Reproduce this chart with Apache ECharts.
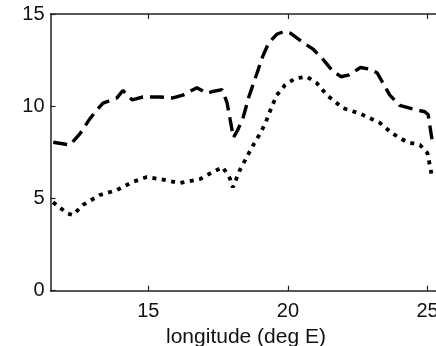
<!DOCTYPE html>
<html>
<head>
<meta charset="utf-8">
<script src="https://cdn.jsdelivr.net/npm/echarts@6/dist/echarts.min.js"></script>
<style>html,body{margin:0;padding:0;background:#fff;}#c{width:436px;height:346px;}</style>
</head>
<body>
<div id="c"></div>
<script>
var xTicks = [15, 20, 25];
var yTicks = [0, 5, 10, 15];
var dashLon = [11.6, 12.2, 12.55, 12.9, 13.16, 13.38, 13.88, 14.09, 14.42, 14.81, 15.42, 15.88, 16.24, 16.74, 17.1, 17.31, 17.64, 17.82, 18.05, 18.2, 18.4, 18.6, 18.85, 19.1, 19.3, 19.6, 19.85, 20.1, 20.55, 20.9, 21.25, 21.61, 21.9, 22.2, 22.6, 22.95, 23.2, 23.65, 24.0, 24.47, 24.9, 25.02, 25.17];
var dashVal = [8.05, 7.9, 8.5, 9.3, 9.8, 10.17, 10.45, 10.85, 10.35, 10.5, 10.5, 10.45, 10.6, 11.0, 10.7, 10.8, 10.9, 10.2, 8.3, 8.7, 9.4, 10.5, 11.6, 12.7, 13.4, 13.9, 14.05, 13.95, 13.45, 13.1, 12.55, 11.9, 11.6, 11.7, 12.1, 12.0, 11.8, 10.6, 10.05, 9.85, 9.7, 9.55, 8.1];
var dotLon = [11.59, 12.09, 12.3, 12.66, 13.27, 13.88, 14.45, 14.95, 15.42, 16.13, 16.85, 17.31, 17.67, 17.92, 18.03, 18.28, 18.6, 18.8, 19.0, 19.2, 19.35, 19.6, 19.9, 20.25, 20.68, 21.04, 21.4, 21.97, 22.58, 23.29, 23.76, 24.26, 24.73, 25.0, 25.17];
var dotVal = [4.8, 4.2, 4.1, 4.65, 5.19, 5.46, 5.9, 6.16, 6.05, 5.84, 6.05, 6.43, 6.7, 6.1, 5.6, 6.54, 7.45, 8.0, 8.5, 9.1, 9.7, 10.6, 11.15, 11.5, 11.6, 11.25, 10.6, 9.9, 9.6, 9.1, 8.5, 8.06, 7.9, 7.45, 6.1];

function pairs(xs, ys) { return xs.map(function (x, i) { return [x, ys[i]]; }); }

var FONT = 'Liberation Sans, Arial, sans-serif';
var axisLine = { show: true, lineStyle: { color: '#222', width: 1.5 } };
var chart = echarts.init(document.getElementById('c'), null, { renderer: 'canvas' });
chart.setOption({
  backgroundColor: '#fff',
  animation: false,
  grid: { left: 50.5, top: 14, width: 391, height: 276.7, containLabel: false, outerBoundsMode: 'none' },
  xAxis: [{
    type: 'value', min: 11.5, max: 25.5, position: 'bottom',
    axisLine: axisLine,
    axisTick: { show: true, inside: true, length: 5, customValues: xTicks, lineStyle: { color: '#222', width: 1.2 } },
    axisLabel: { show: true, customValues: xTicks, margin: 11, color: '#111', fontSize: 20, fontFamily: FONT },
    splitLine: { show: false },
    name: 'longitude (deg E)', nameLocation: 'middle', nameGap: 33,
    nameTextStyle: { color: '#111', fontSize: 21, fontFamily: FONT }
  }, {
    type: 'value', min: 11.5, max: 25.5, position: 'top',
    axisLine: axisLine,
    axisTick: { show: true, inside: true, length: 5, customValues: xTicks, lineStyle: { color: '#222', width: 1.2 } },
    axisLabel: { show: false },
    splitLine: { show: false }
  }],
  yAxis: [{
    type: 'value', min: 0, max: 15, interval: 5, position: 'left',
    axisLine: axisLine,
    axisTick: { show: true, inside: true, length: 5, lineStyle: { color: '#222', width: 1.2 } },
    axisLabel: { show: true, margin: 6, color: '#111', fontSize: 20, fontFamily: FONT },
    splitLine: { show: false }
  }],
  series: [{
    type: 'line', xAxisIndex: 0, yAxisIndex: 0, data: pairs(dashLon, dashVal),
    showSymbol: false, symbol: 'none', smooth: false,
    lineStyle: { color: '#000', width: 3.4, type: [14, 7], cap: 'butt' }
  }, {
    type: 'line', xAxisIndex: 0, yAxisIndex: 0, data: pairs(dotLon, dotVal),
    showSymbol: false, symbol: 'none', smooth: false,
    lineStyle: { color: '#000', width: 3.8, type: [4, 5.5], cap: 'butt' }
  }]
});
</script>
</body>
</html>
